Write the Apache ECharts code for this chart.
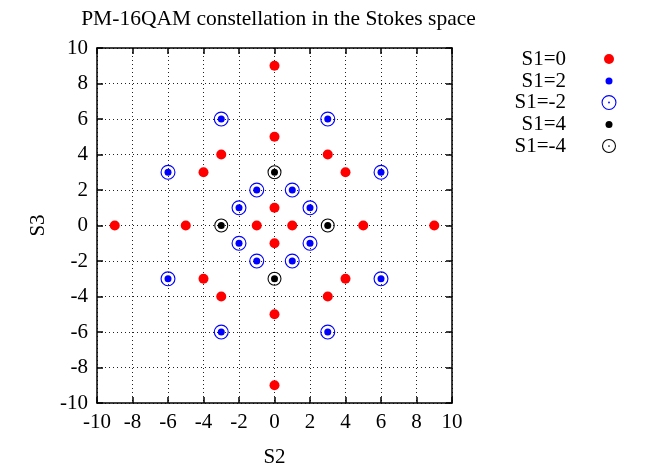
<!DOCTYPE html>
<html><head><meta charset="utf-8">
<script src="https://cdn.jsdelivr.net/npm/echarts@6/dist/echarts.min.js"></script>
<style>html,body{margin:0;padding:0;background:#fff}#c{width:665px;height:466px}</style>
</head><body><div id="c"></div>
<script>
const titleText = 'PM-16QAM constellation in the Stokes space';
const xName = 'S2';
const yName = 'S3';
const seriesNames = ['S1=0', 'S1=2', 'S1=-2', 'S1=4', 'S1=-4'];
const s1_0 = [[0,9],[0,5],[-3,4],[3,4],[-4,3],[4,3],[0,1],[-9,0],[-5,0],[-1,0],[1,0],[5,0],[9,0],[0,-1],[-4,-3],[4,-3],[-3,-4],[3,-4],[0,-5],[0,-9]];
const s1_2 = [[-3,6],[3,6],[-6,3],[6,3],[-1,2],[1,2],[-2,1],[2,1],[-2,-1],[2,-1],[-1,-2],[1,-2],[-6,-3],[6,-3],[-3,-6],[3,-6]];
const s1_m2 = [[-3,6],[3,6],[-6,3],[6,3],[-1,2],[1,2],[-2,1],[2,1],[-2,-1],[2,-1],[-1,-2],[1,-2],[-6,-3],[6,-3],[-3,-6],[3,-6]];
const s1_4 = [[0,3],[-3,0],[3,0],[0,-3]];
const s1_m4 = [[0,3],[-3,0],[3,0],[0,-3]];

const FONT = 'Liberation Serif';
const ring = 'path://M0 -10A10 10 0 1 1 0 10A10 10 0 1 1 0 -10Z M0 -8.5A8.5 8.5 0 1 0 0 8.5A8.5 8.5 0 1 0 0 -8.5Z M0 -1.2A1.2 1.2 0 1 1 0 1.2A1.2 1.2 0 1 1 0 -1.2Z';

const axisCommon = {
  min: -10, max: 10, interval: 2,
  axisLine: {show: true, onZero: false, lineStyle: {color: '#000', width: 1.5}},
  axisTick: {show: true, inside: true, length: 6, lineStyle: {color: '#000', width: 1.5}},
  axisLabel: {color: '#000', fontFamily: FONT, fontSize: 21, margin: 9},
  splitLine: {show: false}
};

const chart = echarts.init(document.getElementById('c'), null, {renderer: 'canvas'});
const legendRows = [59, 81, 102.5, 124.5, 146];
const legendSizes = [10, 7, 15, 7, 14];
const legendIcons = ['circle', 'circle', ring, 'circle', ring];
const iconCx = 609, textEnd = 566;
const legends = seriesNames.map((n, i) => ({
  orient: 'vertical', align: 'right', padding: 0,
  right: 665 - (iconCx + legendSizes[i] / 2),
  top: legendRows[i] - 11,
  itemWidth: legendSizes[i], itemHeight: legendSizes[i],
  selectedMode: false,
  data: [{name: n, icon: legendIcons[i]}],
  textStyle: {color: '#000', fontFamily: FONT, fontSize: 21, lineHeight: 22,
    padding: [0, iconCx - legendSizes[i] / 2 - 5 - textEnd, 0, 0]}
}));

chart.setOption({
  animation: false,
  backgroundColor: '#fff',
  title: {text: titleText, left: 273.5, top: 3, textAlign: 'center',
    textStyle: {color: '#000', fontFamily: FONT, fontSize: 21.5, fontWeight: 'normal'}},
  legend: legends,
  grid: {left: 97, right: 213, top: 48, bottom: 63, containLabel: false, outerBoundsMode: 'none'},
  xAxis: [
    Object.assign({}, axisCommon, {type: 'value', position: 'bottom', name: xName, nameLocation: 'middle', nameGap: 44,
      nameTextStyle: {color: '#000', fontFamily: FONT, fontSize: 21},
      splitLine: {show: true, lineStyle: {color: '#222', width: 1, type: [1, 3]}}}),
    Object.assign({}, axisCommon, {type: 'value', position: 'top', axisLabel: {show: false}})
  ],
  yAxis: [
    Object.assign({}, axisCommon, {type: 'value', position: 'left', name: yName, nameLocation: 'middle', nameGap: 45,
      nameRotate: 90,
      nameTextStyle: {color: '#000', fontFamily: FONT, fontSize: 21},
      splitLine: {show: true, lineStyle: {color: '#222', width: 1, type: [1, 3]}}}),
    Object.assign({}, axisCommon, {type: 'value', position: 'right', axisLabel: {show: false}})
  ],
  series: [
    {name: seriesNames[2], type: 'scatter', data: s1_m2, symbol: ring, symbolSize: 15, itemStyle: {color: '#0000ff', opacity: 1}, z: 3},
    {name: seriesNames[4], type: 'scatter', data: s1_m4, symbol: ring, symbolSize: 14, itemStyle: {color: '#000', opacity: 1}, z: 3},
    {name: seriesNames[0], type: 'scatter', data: s1_0, symbol: 'circle', symbolSize: 10, itemStyle: {color: '#ff0000', opacity: 1}, z: 4},
    {name: seriesNames[1], type: 'scatter', data: s1_2, symbol: 'circle', symbolSize: 7, itemStyle: {color: '#0000ff', opacity: 1}, z: 4},
    {name: seriesNames[3], type: 'scatter', data: s1_4, symbol: 'circle', symbolSize: 7, itemStyle: {color: '#000', opacity: 1}, z: 4}
  ]
});
</script></body></html>
